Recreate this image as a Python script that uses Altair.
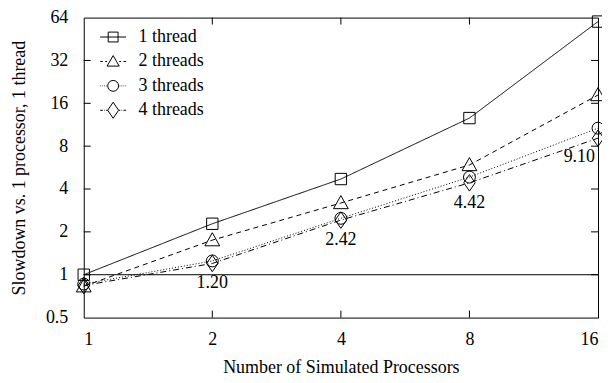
import altair as alt
import pandas as pd

procs = [1, 2, 4, 8, 16]
series = ["1 thread", "2 threads", "3 threads", "4 threads"]
t1 = [1.0, 2.28, 4.7, 12.6, 60.0]
t2 = [0.83, 1.75, 3.19, 5.9, 18.3]
t3 = [0.86, 1.25, 2.49, 4.85, 10.7]
t4 = [0.84, 1.20, 2.42, 4.42, 9.10]
x_ticks = [1, 2, 4, 8, 16]
y_ticks = [0.5, 1, 2, 4, 8, 16, 32, 64]
inner_y_ticks = [1, 2, 4, 8, 16, 32]
inner_x_ticks = [2, 4, 8]

rows = []
for name, vals in zip(series, [t1, t2, t3, t4]):
    for p, v in zip(procs, vals):
        rows.append({"procs": p, "slowdown": v, "series": name})
df = pd.DataFrame(rows)

lab = pd.DataFrame({"procs": procs[1:], "slowdown": t4[1:],
                    "label": [f"{v:.2f}" for v in t4[1:]]})

FONT = "Liberation Serif"
FS = 18

xscale = alt.Scale(type="log", base=2, domain=[1, 16], nice=False)
yscale = alt.Scale(type="log", base=2, domain=[0.5, 64], nice=False)

X = alt.X("procs:Q", scale=xscale,
          axis=alt.Axis(values=x_ticks, format="~g", title="Number of Simulated Processors",
                        labelPadding=13, titlePadding=10))
Y = alt.Y("slowdown:Q", scale=yscale,
          axis=alt.Axis(values=y_ticks, format="~g", title="Slowdown vs. 1 processor, 1 thread",
                        labelPadding=16, titlePadding=17))

dash_scale = alt.Scale(domain=series, range=[[1, 0], [5, 4], [1, 2], [6, 3, 1, 3]])
marker_paths = [
    "M-1,-1H1V1H-1Z",
    "M0,-1.3L1.3,1H-1.3Z",
    "M-1.05,0A1.05,1.05 0 1,0 1.05,0A1.05,1.05 0 1,0 -1.05,0Z",
    "M0,-1.45L1,0L0,1.45L-1,0Z",
]
shape_scale = alt.Scale(domain=series, range=marker_paths)

legend_paths = [
    "M-1,0H1M-0.38,-0.38H0.38V0.38H-0.38Z",
    "M-1,0H-0.8M-0.62,0H-0.47M0.47,0H0.62M0.8,0H1M0,-0.45L0.47,0.36H-0.47Z",
    "M-1,0H-0.95M-0.85,0H-0.8M-0.7,0H-0.65M-0.55,0H-0.5M0.5,0H0.55M0.65,0H0.7M0.8,0H0.85M0.95,0H1"
    "M-0.42,0A0.42,0.42 0 1,0 0.42,0A0.42,0.42 0 1,0 -0.42,0Z",
    "M-1,0H-0.8M-0.7,0H-0.65M-0.55,0H-0.44M0.44,0H0.55M0.65,0H0.7M0.8,0H1M0,-0.62L0.42,0L0,0.62L-0.42,0Z",
]
legend_scale = alt.Scale(domain=series, range=legend_paths)

base = alt.Chart(df)

lines = base.mark_line(color="black", strokeWidth=1).encode(
    x=X, y=Y,
    strokeDash=alt.StrokeDash("series:N", scale=dash_scale, legend=None),
    detail="series:N",
)

points = base.mark_point(color="black", filled=False, size=130, strokeWidth=1, opacity=1).encode(
    x=X, y=Y,
    shape=alt.Shape("series:N", scale=shape_scale, legend=None),
)

legend_layer = base.transform_filter("false").mark_point(
    color="black", filled=False, strokeWidth=1, opacity=1
).encode(
    x=X, y=Y,
    shape=alt.Shape("series:N", scale=legend_scale,
                    legend=alt.Legend(title=None, orient="none", legendX=16, legendY=6,
                                      symbolSize=676, labelFont=FONT, labelFontSize=FS,
                                      labelColor="black", labelOffset=12, rowPadding=1.5,
                                      symbolStrokeColor="black", symbolStrokeWidth=1,
                                      symbolFillColor="transparent")),
)

one_line = alt.Chart(pd.DataFrame({"y": [1]})).mark_rule(color="black", strokeWidth=1).encode(
    y=alt.Y("y:Q", scale=yscale))

yt = pd.DataFrame({"v": inner_y_ticks})
xt = pd.DataFrame({"v": inner_x_ticks})
tick_l = alt.Chart(yt).mark_rule(color="black").encode(
    y=alt.Y("v:Q", scale=yscale), x=alt.value(0), x2=alt.value(7))
tick_r = alt.Chart(yt).mark_rule(color="black").encode(
    y=alt.Y("v:Q", scale=yscale), x=alt.value(516), x2=alt.value(509))
tick_b = alt.Chart(xt).mark_rule(color="black").encode(
    x=alt.X("v:Q", scale=xscale), y=alt.value(301), y2=alt.value(294))
tick_t = alt.Chart(xt).mark_rule(color="black").encode(
    x=alt.X("v:Q", scale=xscale), y=alt.value(0), y2=alt.value(7))

labels_c = alt.Chart(lab).transform_filter("datum.procs < 16").mark_text(
    font=FONT, fontSize=FS, color="black", dy=20, align="center").encode(
    x=alt.X("procs:Q", scale=xscale), y=alt.Y("slowdown:Q", scale=yscale), text="label:N")
labels_r = alt.Chart(lab).transform_filter("datum.procs == 16").mark_text(
    font=FONT, fontSize=FS, color="black", dy=19, dx=-3, align="right").encode(
    x=alt.X("procs:Q", scale=xscale), y=alt.Y("slowdown:Q", scale=yscale), text="label:N")

chart = alt.layer(
    one_line, tick_l, tick_r, tick_b, tick_t, lines, points, legend_layer, labels_c, labels_r
).resolve_scale(shape="independent").properties(
    width=516, height=301,
    background="white",
    autosize=alt.AutoSizeParams(type="none"),
    padding={"left": 76, "top": 9, "right": 4, "bottom": 60},
).configure_view(stroke="black", strokeWidth=1).configure_axis(
    labelFont=FONT, labelFontSize=FS, labelColor="black",
    titleFont=FONT, titleFontSize=FS, titleFontWeight="normal", titleColor="black",
    grid=False, domain=False, ticks=False, tickSize=0,
)

chart.save("out.html", embed_options={"renderer": "svg", "actions": False})
